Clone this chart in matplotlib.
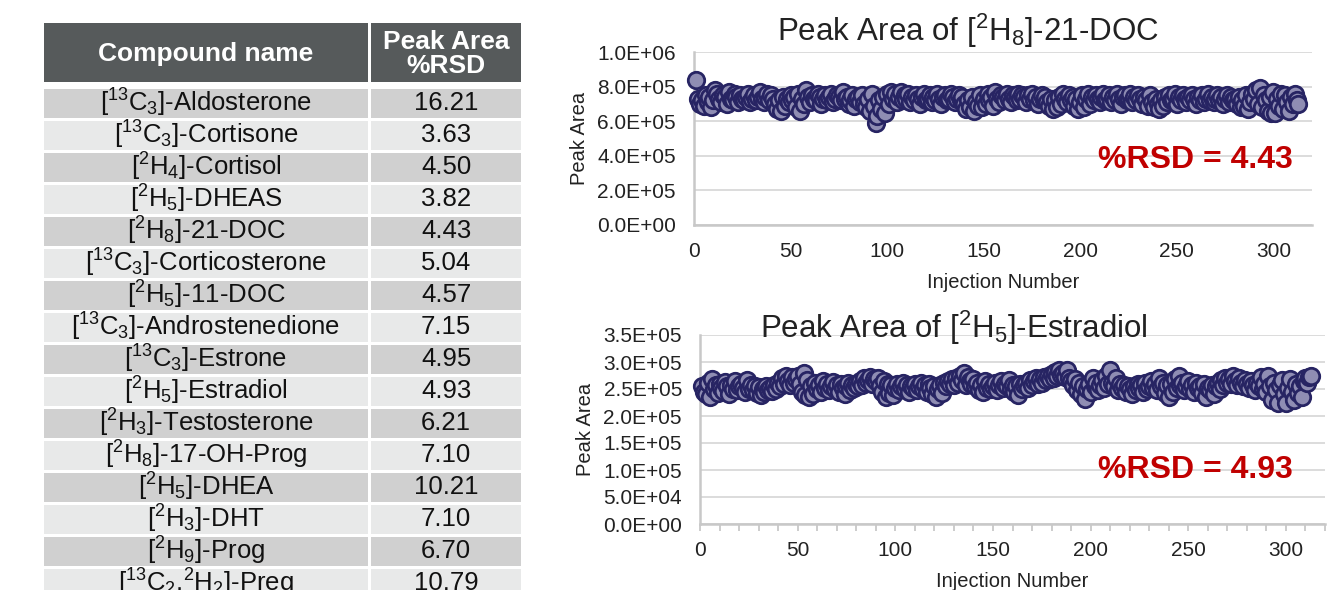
import matplotlib
matplotlib.use('Agg')
import matplotlib.pyplot as plt
from matplotlib.patches import Rectangle
from matplotlib.ticker import MultipleLocator, FuncFormatter

plt.rcParams['font.family'] = ['Liberation Sans', 'DejaVu Sans']
plt.rcParams['mathtext.fontset'] = 'custom'
plt.rcParams['mathtext.rm'] = 'Liberation Sans'
plt.rcParams['mathtext.it'] = 'Liberation Sans:italic'
plt.rcParams['mathtext.bf'] = 'Liberation Sans:bold'

# table data
compounds = [r'[$^{13}$C$_3$]-Aldosterone', r'[$^{13}$C$_3$]-Cortisone', r'[$^2$H$_4$]-Cortisol',
             r'[$^2$H$_5$]-DHEAS', r'[$^2$H$_8$]-21-DOC', r'[$^{13}$C$_3$]-Corticosterone',
             r'[$^2$H$_5$]-11-DOC', r'[$^{13}$C$_3$]-Androstenedione', r'[$^{13}$C$_3$]-Estrone',
             r'[$^2$H$_5$]-Estradiol', r'[$^2$H$_3$]-Testosterone', r'[$^2$H$_8$]-17-OH-Prog',
             r'[$^2$H$_5$]-DHEA', r'[$^2$H$_3$]-DHT', r'[$^2$H$_9$]-Prog', r'[$^{13}$C$_2$,$^2$H$_2$]-Preg']
rsd = ['16.21', '3.63', '4.50', '3.82', '4.43', '5.04', '4.57', '7.15', '4.95', '4.93',
       '6.21', '7.10', '10.21', '7.10', '6.70', '10.79']

# peak areas of [2H8]-21-DOC (x1e5), injections 1..313
doc = [8.4, 7.3, 7.0, 7.2, 6.9, 7.5, 7.1, 7.4, 6.8, 7.2,
       7.8, 7.6, 7.3, 7.1, 7.5, 7.4, 7.0, 7.7, 7.3, 7.2,
       7.6, 7.4, 7.1, 7.5, 7.3, 7.2, 7.4, 7.6, 7.1, 7.3,
       7.5, 7.2, 7.4, 7.7, 7.3, 7.1, 7.4, 7.6, 7.2, 7.5,
       7.3, 7.0, 6.7, 7.2, 6.6, 7.4, 6.9, 7.3, 7.1, 7.5,
       7.2, 7.4, 6.8, 7.6, 6.6, 7.3, 7.0, 7.8, 7.4, 7.1,
       7.5, 7.3, 7.2, 7.6, 7.4, 7.0, 7.3, 7.5, 7.2, 7.4,
       7.6, 7.1, 7.3, 7.5, 7.4, 7.2, 7.7, 7.3, 7.4, 7.0,
       7.2, 7.5, 6.9, 7.3, 7.4, 7.1, 7.5, 7.0, 6.8, 7.3,
       6.6, 7.6, 6.9, 5.9, 6.3, 7.2, 6.7, 7.4, 6.5, 7.6,
       7.0, 7.7, 7.3, 7.6, 7.1, 7.4, 7.7, 7.2, 7.5, 7.3,
       7.6, 7.1, 7.4, 7.2, 7.5, 7.3, 7.0, 7.4, 7.6, 7.2,
       7.3, 7.5, 7.1, 7.4, 7.2, 7.6, 7.3, 7.0, 7.4, 7.5,
       7.2, 7.3, 7.6, 7.4, 7.1, 7.3, 7.5, 7.2, 7.4, 7.0,
       6.7, 7.2, 6.8, 7.4, 6.6, 7.1, 6.9, 7.5, 6.8, 7.3,
       7.0, 7.6, 7.2, 7.4, 6.9, 7.7, 7.3, 7.1, 7.5, 7.4,
       7.2, 7.6, 7.3, 7.1, 7.5, 7.4, 7.2, 7.6, 7.3, 7.5,
       7.4, 7.1, 7.5, 7.3, 7.6, 7.2, 7.4, 7.0, 7.3, 7.5,
       7.2, 7.4, 7.1, 6.9, 7.3, 6.7, 7.2, 6.8, 7.4, 7.0,
       7.6, 7.3, 7.1, 7.5, 7.2, 7.4, 6.9, 7.3, 6.7, 7.1,
       7.5, 6.8, 7.3, 7.6, 7.0, 7.4, 7.2, 7.5, 7.3, 7.1,
       7.4, 7.6, 7.2, 7.3, 7.5, 7.1, 7.4, 7.2, 7.6, 7.3,
       7.0, 7.4, 7.5, 7.2, 7.3, 7.6, 7.1, 7.4, 7.2, 7.5,
       7.3, 7.0, 7.4, 7.2, 6.9, 7.5, 7.1, 6.8, 7.3, 7.0,
       6.7, 7.2, 6.9, 7.4, 7.1, 7.5, 7.2, 7.3, 7.6, 7.0,
       7.4, 7.2, 7.5, 7.3, 7.1, 7.4, 7.2, 7.5, 7.3, 7.0,
       7.4, 7.2, 7.5, 7.1, 7.3, 7.6, 7.2, 7.4, 7.1, 7.3,
       7.5, 7.2, 7.4, 7.0, 7.3, 7.5, 7.1, 7.4, 7.2, 7.3,
       7.0, 7.4, 6.8, 7.2, 6.9, 7.5, 6.7, 7.1, 7.6, 7.3,
       7.8, 7.0, 7.9, 6.8, 7.5, 7.2, 6.6, 7.4, 6.5, 7.7,
       6.5, 7.3, 6.9, 7.6, 6.7, 7.5, 7.1, 6.6, 7.4, 7.0,
       7.6, 7.2, 7.0]

# peak areas of [2H5]-Estradiol (x1e5), injections 1..313
e2 = [2.55, 2.45, 2.40, 2.62, 2.35, 2.68, 2.50, 2.58, 2.42, 2.60,
      2.52, 2.47, 2.63, 2.55, 2.40, 2.58, 2.50, 2.65, 2.48, 2.56,
      2.60, 2.52, 2.45, 2.66, 2.50, 2.57, 2.48, 2.55, 2.42, 2.53,
      2.38, 2.50, 2.45, 2.56, 2.48, 2.52, 2.47, 2.58, 2.50, 2.62,
      2.55, 2.70, 2.60, 2.74, 2.65, 2.58, 2.72, 2.62, 2.68, 2.75,
      2.60, 2.45, 2.80, 2.38, 2.66, 2.35, 2.55, 2.40, 2.62, 2.50,
      2.58, 2.45, 2.65, 2.52, 2.60, 2.48, 2.56, 2.63, 2.50, 2.57,
      2.45, 2.60, 2.52, 2.40, 2.55, 2.62, 2.48, 2.58, 2.52, 2.60,
      2.55, 2.65, 2.58, 2.70, 2.62, 2.66, 2.72, 2.60, 2.68, 2.64,
      2.70, 2.55, 2.45, 2.65, 2.35, 2.60, 2.42, 2.58, 2.38, 2.52,
      2.60, 2.48, 2.55, 2.62, 2.50, 2.58, 2.45, 2.56, 2.52, 2.60,
      2.48, 2.55, 2.62, 2.50, 2.57, 2.45, 2.60, 2.52, 2.40, 2.55,
      2.35, 2.50, 2.58, 2.42, 2.62, 2.55, 2.65, 2.60, 2.68, 2.58,
      2.70, 2.62, 2.75, 2.66, 2.80, 2.58, 2.72, 2.65, 2.60, 2.68,
      2.55, 2.62, 2.48, 2.58, 2.45, 2.65, 2.52, 2.60, 2.50, 2.56,
      2.62, 2.48, 2.58, 2.65, 2.52, 2.60, 2.55, 2.66, 2.50, 2.58,
      2.45, 2.55, 2.38, 2.60, 2.50, 2.57, 2.62, 2.52, 2.66, 2.58,
      2.64, 2.70, 2.60, 2.68, 2.62, 2.72, 2.66, 2.75, 2.68, 2.78,
      2.70, 2.82, 2.74, 2.85, 2.76, 2.80, 2.72, 2.86, 2.70, 2.65,
      2.58, 2.68, 2.48, 2.62, 2.40, 2.55, 2.32, 2.50, 2.60, 2.45,
      2.70, 2.55, 2.62, 2.48, 2.58, 2.66, 2.52, 2.75, 2.60, 2.85,
      2.62, 2.55, 2.70, 2.48, 2.60, 2.52, 2.58, 2.45, 2.55, 2.50,
      2.40, 2.55, 2.48, 2.60, 2.52, 2.58, 2.45, 2.62, 2.50, 2.56,
      2.65, 2.52, 2.60, 2.48, 2.70, 2.55, 2.62, 2.42, 2.58, 2.35,
      2.60, 2.45, 2.68, 2.52, 2.74, 2.58, 2.62, 2.48, 2.55, 2.65,
      2.50, 2.58, 2.45, 2.62, 2.52, 2.56, 2.42, 2.60, 2.35, 2.52,
      2.48, 2.58, 2.40, 2.55, 2.62, 2.50, 2.66, 2.58, 2.70, 2.62,
      2.68, 2.60, 2.74, 2.65, 2.58, 2.70, 2.62, 2.55, 2.66, 2.60,
      2.52, 2.65, 2.58, 2.48, 2.62, 2.55, 2.72, 2.50, 2.60, 2.45,
      2.75, 2.55, 2.30, 2.62, 2.48, 2.25, 2.58, 2.66, 2.40, 2.25,
      2.52, 2.68, 2.45, 2.30, 2.60, 2.42, 2.55, 2.35, 2.65, 2.70,
      2.62, 2.72, 2.75]

inj = list(range(1, len(doc) + 1))

W, H = 1344, 590
fig = plt.figure(figsize=(W / 100, H / 100), dpi=100)

# ---- table (pixel coords) ----
tab = fig.add_axes([0, 0, 1, 1])
tab.set_xlim(0, W)
tab.set_ylim(H, 0)
tab.axis('off')

c1x, c1w = 44, 324
c2x, c2w = 371, 150
tab.add_patch(Rectangle((c1x, 23), c1w, 59, color='#565a5b', lw=0))
tab.add_patch(Rectangle((c2x, 23), c2w, 59, color='#565a5b', lw=0))
tab.text(c1x + c1w / 2, 54, 'Compound name', color='white', fontsize=19, fontweight='bold',
         ha='center', va='center')
tab.text(c2x + c2w / 2, 54, 'Peak Area\n%RSD', color='white', fontsize=19, fontweight='bold',
         ha='center', va='center', linespacing=0.95)

# last row is cut by the bottom edge, as in the slide
for i, (name, val) in enumerate(zip(compounds, rsd)):
    top = 89 + 32 * i
    col = '#d0d0d0' if i % 2 == 0 else '#e8e9e9'
    tab.add_patch(Rectangle((c1x, top), c1w, 29, color=col, lw=0))
    tab.add_patch(Rectangle((c2x, top), c2w, 29, color=col, lw=0))
    tab.text(c1x + c1w / 2, top + 14, name, fontsize=18.5, color='#111111',
             ha='center', va='center')
    tab.text(c2x + c2w / 2, top + 14, val, fontsize=18.5, color='#111111',
             ha='center', va='center')

# ---- scatter charts ----
def sci(v, pos):
    return '{:.1E}'.format(v)

def panel(rect, y, ymax, ystep, title, title_x, title_y, title_pad, rsd_txt, rsd_x, rsd_y, ticks_on):
    ax = fig.add_axes(rect)
    ax.scatter(inj, [v * 1e5 for v in y], s=140, facecolor='#8f8db3', edgecolor='#272463',
               linewidth=2.0, zorder=3, clip_on=False)
    ax.set_xlim(0, 320)
    ax.set_ylim(0, ymax)
    ax.yaxis.set_major_locator(MultipleLocator(ystep))
    ax.yaxis.set_major_formatter(FuncFormatter(sci))
    ax.xaxis.set_major_locator(MultipleLocator(50))
    ax.grid(axis='y', color='#d9d9d9', lw=1.3)
    ax.set_axisbelow(True)
    for s in ['top', 'right']:
        ax.spines[s].set_visible(False)
    for s in ['left', 'bottom']:
        ax.spines[s].set_color('#c8c8c8')
        ax.spines[s].set_linewidth(1.8)
    ax.tick_params(axis='y', length=0, labelsize=15, colors='#222222', pad=13)
    if ticks_on:
        ax.xaxis.set_minor_locator(MultipleLocator(10))
        ax.tick_params(axis='x', which='both', length=5, width=1.3, color='#c8c8c8',
                       labelsize=15, labelcolor='#222222', pad=7)
    else:
        ax.tick_params(axis='x', length=0, labelsize=15, labelcolor='#222222', pad=12)
    ax.set_xlabel('Injection Number', fontsize=14.5, color='#222222', labelpad=9)
    ax.set_ylabel('Peak Area', fontsize=14.5, color='#222222', labelpad=6)
    ax.set_title(title, fontsize=22.5, color='#222222', pad=title_pad, x=title_x, y=title_y)
    ax.text(rsd_x, rsd_y, rsd_txt, transform=ax.transAxes, fontsize=23, fontweight='bold',
            color='#c00000', ha='right', va='center')
    return ax

ax1 = panel([694 / W, 1 - 225 / H, 618 / W, 173 / H], doc, 1.0e6, 2.0e5,
            r'Peak Area of [$^2$H$_8$]-21-DOC', 0.443, 1.0, 8,
            '%RSD = 4.43', 0.969, 0.375, False)
ax2 = panel([700 / W, 1 - 524 / H, 625 / W, 189 / H], e2, 3.5e5, 5.0e4,
            r'Peak Area of [$^2$H$_5$]-Estradiol', 0.406, 0.984, 0,
            '%RSD = 4.93', 0.949, 0.286, True)

fig.savefig('out.png', dpi=100)
